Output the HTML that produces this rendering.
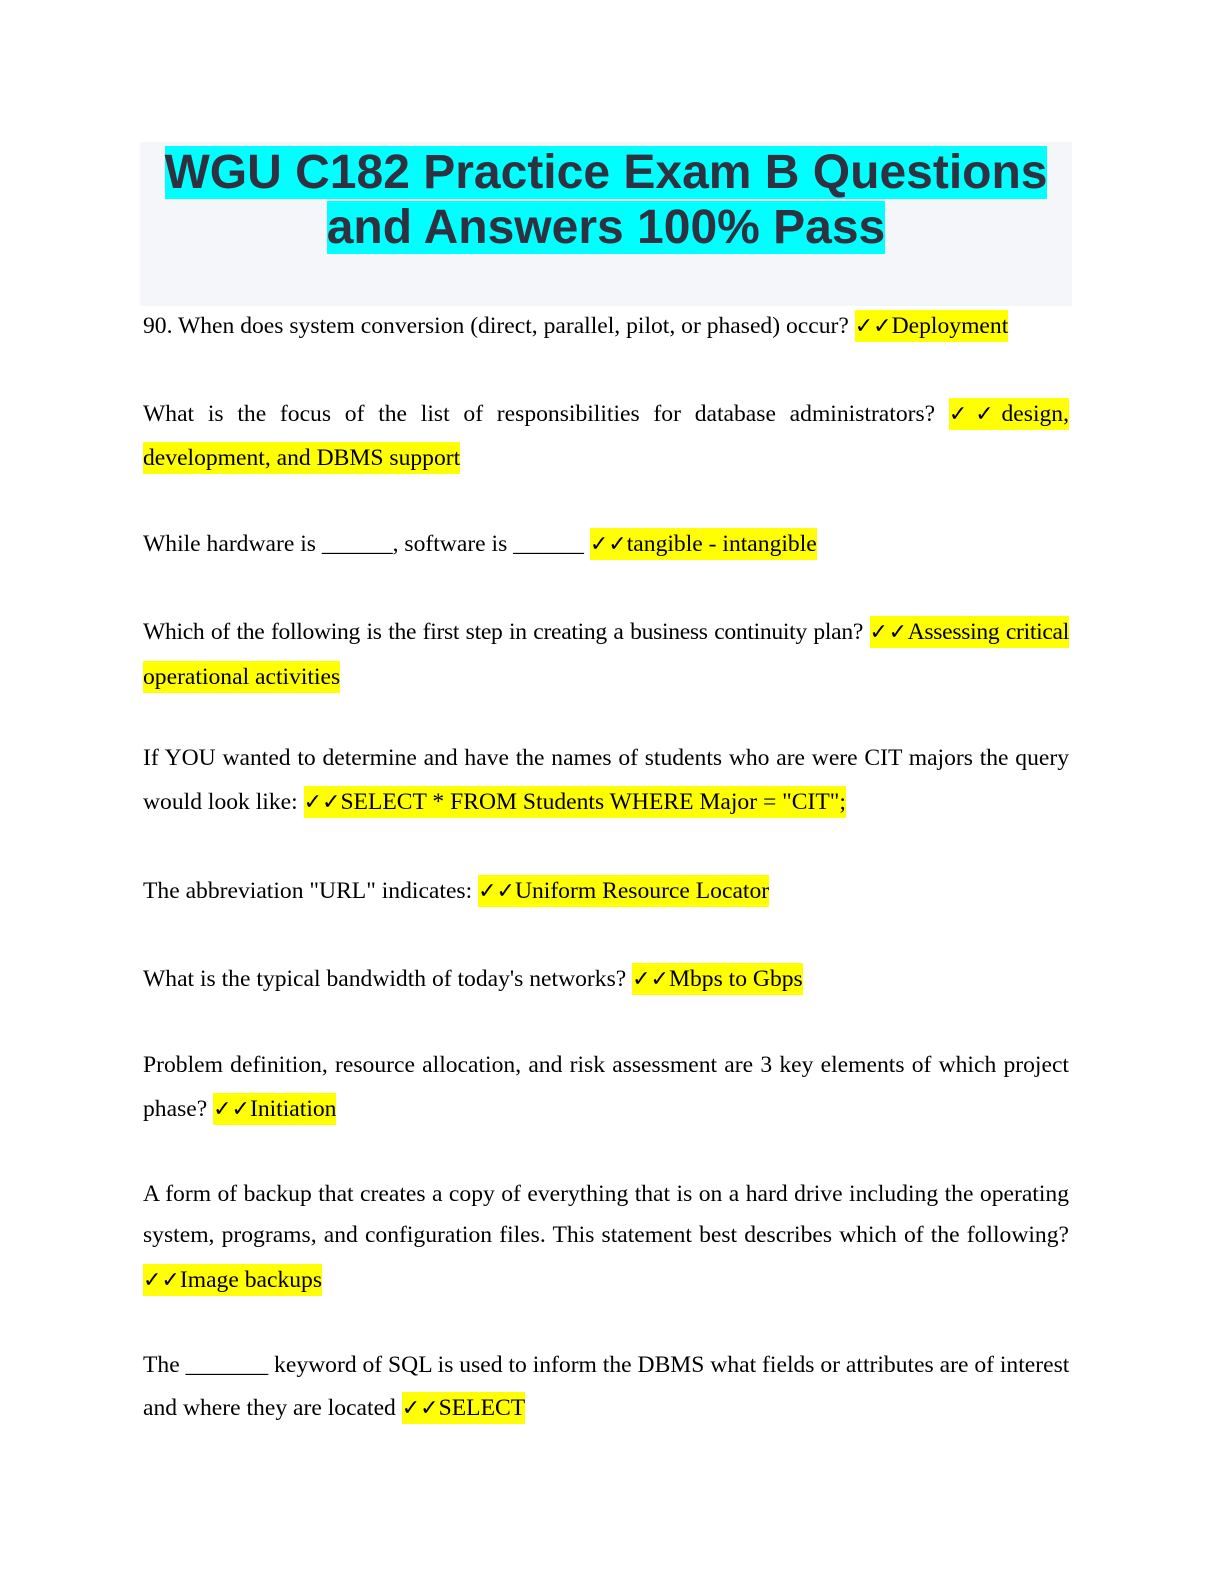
<!DOCTYPE html>
<html><head><meta charset="utf-8"><style>
body{margin:0;width:1224px;height:1584px;background:#fff;position:relative;overflow:hidden}
.tb{position:absolute;left:140px;top:142px;width:932px;height:164px;background:#f5f6fa}
.t{position:absolute;left:140px;top:145px;width:932px;text-align:center;font:bold 48px/55px "Liberation Sans",sans-serif;color:#2e3240}
.t span{background:#00ffff}
.p{position:absolute;left:143px;width:926px;font:23.6px/44.5px "Liberation Serif",serif;color:#000;white-space:nowrap}
.j{text-align:justify;text-align-last:justify}
.h{background:#ffff00;padding:3px 0}
.c{font-weight:bold;font-family:"DejaVu Sans",sans-serif;font-size:22px}
</style></head><body>
<div class="tb"></div>
<div class="t"><span>WGU C182 Practice Exam B Questions</span><br><span>and Answers 100% Pass</span></div>
<div class="p" style="top:304px">90. When does system conversion (direct, parallel, pilot, or phased) occur? <span class="h"><span class="c">✓✓</span>Deployment</span></div>
<div class="p j" style="top:392px">What is the focus of the list of responsibilities for database administrators? <span class="h"><span class="c">✓✓</span>design,</span></div>
<div class="p" style="top:436px"><span class="h">development, and DBMS support</span></div>
<div class="p" style="top:522px">While hardware is ______, software is ______ <span class="h"><span class="c">✓✓</span>tangible - intangible</span></div>
<div class="p j" style="top:610px;letter-spacing:-0.3px">Which of the following is the first step in creating a business continuity plan? <span class="h"><span class="c">✓✓</span>Assessing critical</span></div>
<div class="p" style="top:655px"><span class="h">operational activities</span></div>
<div class="p j" style="top:736px">If YOU wanted to determine and have the names of students who are were CIT majors the query</div>
<div class="p" style="top:780px">would look like: <span class="h"><span class="c">✓✓</span>SELECT * FROM Students WHERE Major = "CIT";</span></div>
<div class="p" style="top:869px">The abbreviation "URL" indicates: <span class="h"><span class="c">✓✓</span>Uniform Resource Locator</span></div>
<div class="p" style="top:957px">What is the typical bandwidth of today's networks? <span class="h"><span class="c">✓✓</span>Mbps to Gbps</span></div>
<div class="p j" style="top:1043px">Problem definition, resource allocation, and risk assessment are 3 key elements of which project</div>
<div class="p" style="top:1087px">phase? <span class="h"><span class="c">✓✓</span>Initiation</span></div>
<div class="p j" style="top:1172px">A form of backup that creates a copy of everything that is on a hard drive including the operating</div>
<div class="p j" style="top:1213px">system, programs, and configuration files. This statement best describes which of the following?</div>
<div class="p" style="top:1258px"><span class="h"><span class="c">✓✓</span>Image backups</span></div>
<div class="p j" style="top:1343px">The _______ keyword of SQL is used to inform the DBMS what fields or attributes are of interest</div>
<div class="p" style="top:1386px">and where they are located <span class="h"><span class="c">✓✓</span>SELECT</span></div>
</body></html>
